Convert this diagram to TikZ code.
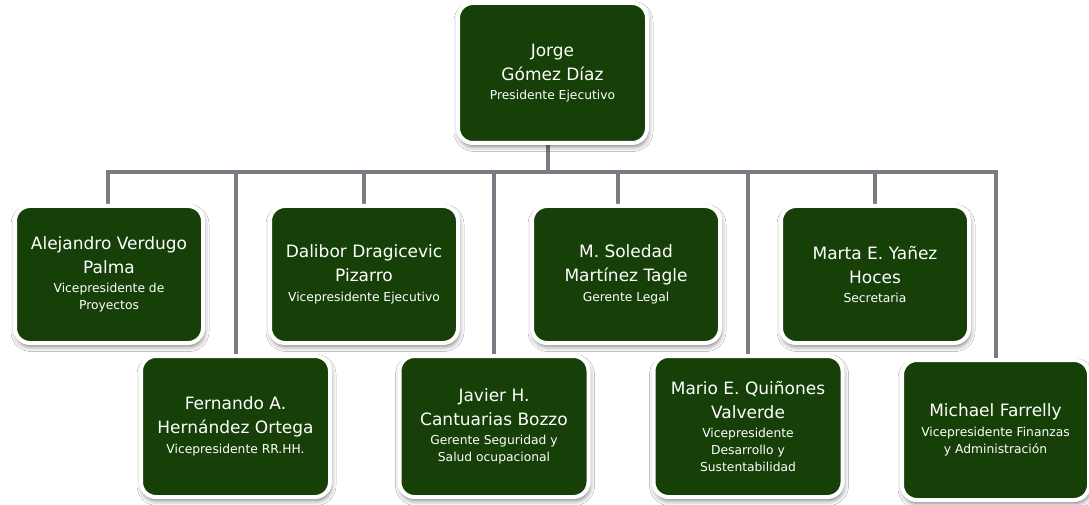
\documentclass[tikz,border=0pt]{standalone}
\usepackage{fontspec}
\setmainfont{DejaVu Sans}
\usetikzlibrary{shadows.blur,backgrounds}
\definecolor{boxgreen}{RGB}{22,64,8}
\definecolor{linkgray}{RGB}{122,122,130}
\newcommand\rolefont{\fontsize{12.3}{16}\selectfont}

\begin{document}
\begin{tikzpicture}[x=1pt,y=-1pt,
  person/.style={rectangle, rounded corners=15pt, fill=boxgreen, draw=white,
    line width=4pt, text=white, align=center, inner sep=0pt,
    font=\fontsize{17}{24}\selectfont,
    blur shadow={shadow xshift=1pt, shadow yshift=-3.5pt,
      shadow blur radius=5pt, shadow opacity=55}},
  rowa/.style={person, minimum width=188pt, minimum height=137pt},
  rowb/.style={person, minimum width=189pt, minimum height=141pt},
  link/.style={draw=linkgray, line width=4pt, line join=miter}]

\useasboundingbox (0,0) rectangle (1089,505);

% president
\node[person, minimum width=189pt, minimum height=140pt] (pres) at (552.5,73)
  {Jorge\\Gómez Díaz\\[-4.5pt]{\rolefont Presidente Ejecutivo}};

% first row
\node[rowa] (ale) at (109,274.5)
  {Alejandro Verdugo\\Palma\\[-4.5pt]{\rolefont Vicepresidente de}\\[-7pt]{\rolefont Proyectos}};
\node[rowa] (dal) at (364,274.5)
  {Dalibor Dragicevic\\Pizarro\\[-4.5pt]{\rolefont Vicepresidente Ejecutivo}};
\node[rowa] (sol) at (626,274.5)
  {M. Soledad\\Martínez Tagle\\[-4.5pt]{\rolefont Gerente Legal}};
\node[rowa] (mar) at (875,274.5)
  {Marta E. Yañez\\Hoces\\[-4.5pt]{\rolefont Secretaria}};

% second row
\node[rowb] (fer) at (235.5,426.5)
  {Fernando A.\\Hernández Ortega\\[-4.5pt]{\rolefont Vicepresidente RR.HH.}};
\node[rowb] (jav) at (494,426.5)
  {Javier H.\\Cantuarias Bozzo\\[-4.5pt]{\rolefont Gerente Seguridad y}\\[-7pt]{\rolefont Salud ocupacional}};
\node[rowb] (mrv) at (748,426.5)
  {Mario E. Quiñones\\Valverde\\[-4.5pt]{\rolefont Vicepresidente}\\[-7pt]{\rolefont Desarrollo y}\\[-7pt]{\rolefont Sustentabilidad}};
\node[person, minimum width=187pt, minimum height=140pt] (mic) at (995.5,430)
  {Michael Farrelly\\[-4.5pt]{\rolefont Vicepresidente Finanzas}\\[-7pt]{\rolefont y Administración}};

% bus points
\coordinate (busL) at (108,172);
\coordinate (busR) at (996,172);
\coordinate (bPres) at (548,172);
\coordinate (bFer) at (236,172);
\coordinate (bDal) at (364,172);
\coordinate (bJav) at (494,172);
\coordinate (bSol) at (618,172);
\coordinate (bMrv) at (748,172);
\coordinate (bMar) at (875,172);

\begin{scope}[on background layer]
  \fill[white] (0,0) rectangle (1089,505);
  \draw[link] (busL |- ale.north) -- (busL) -- (busR) -- (busR |- mic.north);
  \draw[link] (bPres |- pres.south) -- (bPres);
  \draw[link] (bFer) -- (bFer |- fer.north);
  \draw[link] (bDal) -- (bDal |- dal.north);
  \draw[link] (bJav) -- (bJav |- jav.north);
  \draw[link] (bSol) -- (bSol |- sol.north);
  \draw[link] (bMrv) -- (bMrv |- mrv.north);
  \draw[link] (bMar) -- (bMar |- mar.north);
\end{scope}
\end{tikzpicture}
\end{document}
